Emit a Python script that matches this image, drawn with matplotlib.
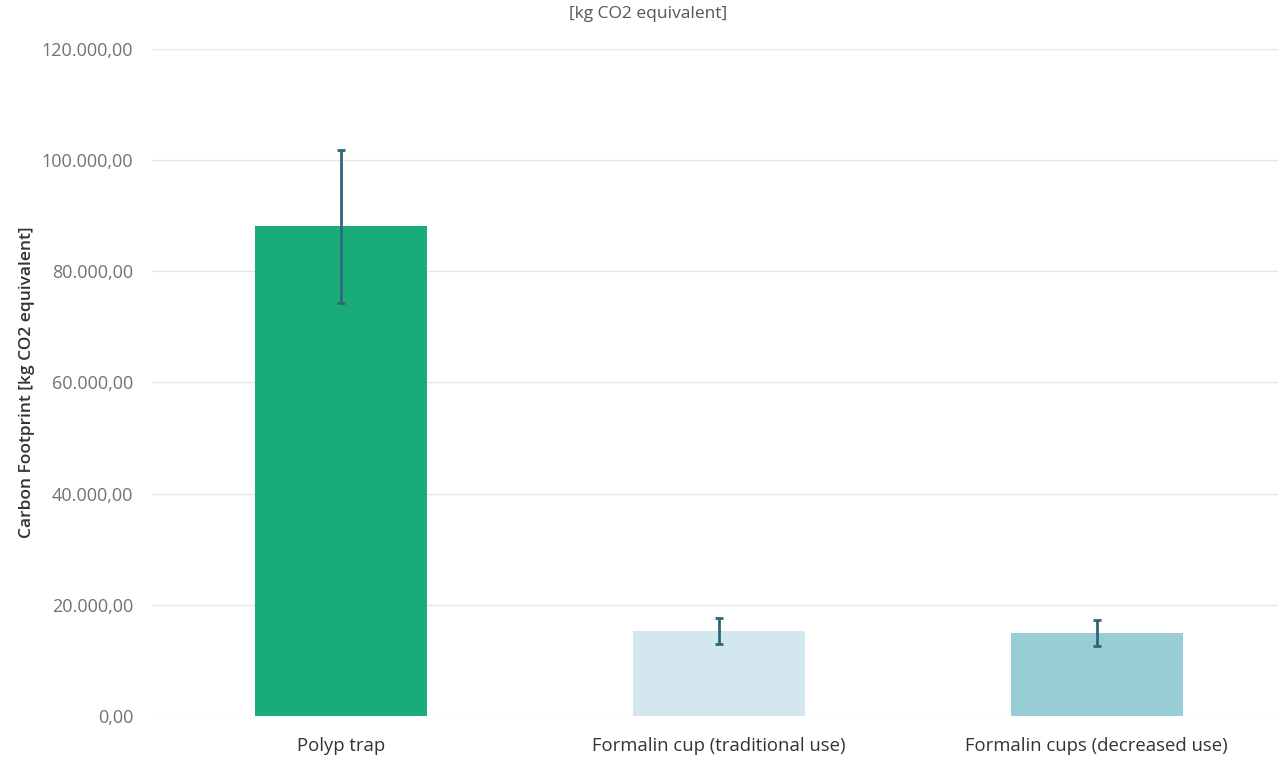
import numpy as np
import matplotlib.pyplot as plt
from matplotlib.ticker import FuncFormatter

plt.rcParams['font.family'] = ['Open Sans', 'DejaVu Sans']

categories = ['Polyp trap', 'Formalin cup (traditional use)', 'Formalin cups (decreased use)']
values = [88100, 15300, 14950]
errors = [13800, 2350, 2350]
colors = ['#19AB78', '#D3E8EE', '#98CDD6']


def de_format(v, pos):
    s = f'{v:,.2f}'
    return s.replace(',', 'X').replace('.', ',').replace('X', '.')


fig = plt.figure(figsize=(12.78, 7.58), dpi=100)
ax = fig.add_axes([0.119, 0.0554, 0.887, 0.880])

x = np.arange(len(categories))
ax.bar(x, values, width=0.455, color=colors, zorder=2)
ax.errorbar(x, values, yerr=errors, fmt='none', ecolor='#2E6878',
            elinewidth=2, capsize=3, capthick=2, zorder=3)

ax.set_xlim(-0.5, 2.5)
ax.set_ylim(0, 120000)
ax.set_yticks(np.arange(0, 120001, 20000))
ax.yaxis.set_major_formatter(FuncFormatter(de_format))
ax.set_xticks(x)
ax.set_xticklabels(categories, fontsize=13.3, color='#333333')
ax.tick_params(axis='y', labelsize=13, colors='#6E7474', length=0, pad=13.5)
ax.tick_params(axis='x', length=0, pad=15)
ax.grid(axis='y', color='#E3E6E6', linewidth=1, zorder=0)
for s in ax.spines.values():
    s.set_visible(False)

ax.set_ylabel('Carbon Footprint [kg CO2 equivalent]', fontsize=12.5,
              fontweight='semibold', color='#333333', labelpad=5)
fig.text(0.507, 0.981, '[kg CO2 equivalent]', ha='center', va='center',
         fontsize=12.5, color='#555555')

fig.savefig('out.png', dpi=100)
